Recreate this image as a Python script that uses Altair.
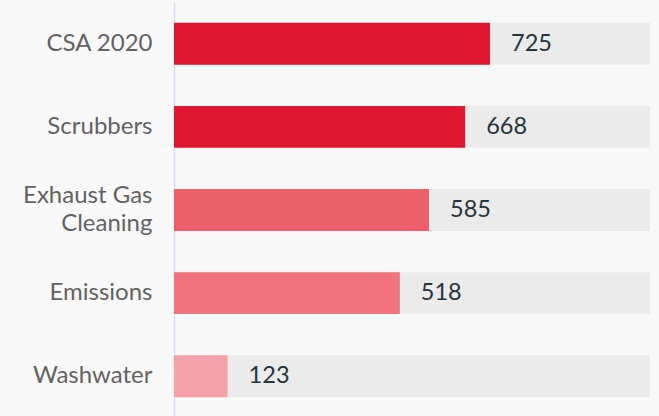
import altair as alt
import pandas as pd

categories = ["CSA 2020", "Scrubbers", "Exhaust Gas Cleaning", "Emissions", "Washwater"]
values = [725, 668, 585, 518, 123]
colors = ["#e01730", "#e01730", "#ec5f6b", "#f0737d", "#f5a1a7"]
axis_max = 1092

df = pd.DataFrame({"category": categories, "value": values})

y = alt.Y(
    "category:N",
    sort=categories,
    scale=alt.Scale(paddingInner=0.495, paddingOuter=0.25),
    axis=alt.Axis(
        title=None,
        ticks=False,
        grid=False,
        domainColor="#d4dff2",
        domainWidth=1.5,
        labelFont="Lato",
        labelFontSize=24,
        labelColor="#626262",
        labelPadding=22,
        labelLineHeight=28,
        labelLimit=300,
        labelOffset={"condition": {"test": "datum.label == 'Exhaust Gas Cleaning'", "value": -14}, "value": 0},
        labelExpr="datum.label == 'Exhaust Gas Cleaning' ? ['Exhaust Gas', 'Cleaning'] : datum.label",
    ),
)
xscale = alt.Scale(domain=[0, axis_max], nice=False, zero=True)

base = alt.Chart(df)

bg = base.transform_calculate(full=str(axis_max)).mark_bar(color="#ebebeb").encode(
    y=y,
    x=alt.X("full:Q", scale=xscale, axis=None),
)

bars = base.mark_bar().encode(
    y=y,
    x=alt.X("value:Q", scale=xscale, axis=None),
    color=alt.Color("category:N", scale=alt.Scale(domain=categories, range=colors), legend=None),
)

labels = base.mark_text(
    align="left", baseline="middle", dx=21, font="Lato", fontSize=23.5, color="#27343d"
).encode(
    y=y,
    x=alt.X("value:Q", scale=xscale, axis=None),
    text="value:Q",
)

chart = (
    alt.layer(bg, bars, labels)
    .properties(
        width=476,
        height=416,
        background="#f9f9f9",
        padding={"left": 174, "top": 2, "right": 9, "bottom": 0},
        autosize=alt.AutoSizeParams(type="none"),
    )
    .configure_view(stroke=None)
)

chart.save("out.html", embed_options={"renderer": "svg", "actions": False})
